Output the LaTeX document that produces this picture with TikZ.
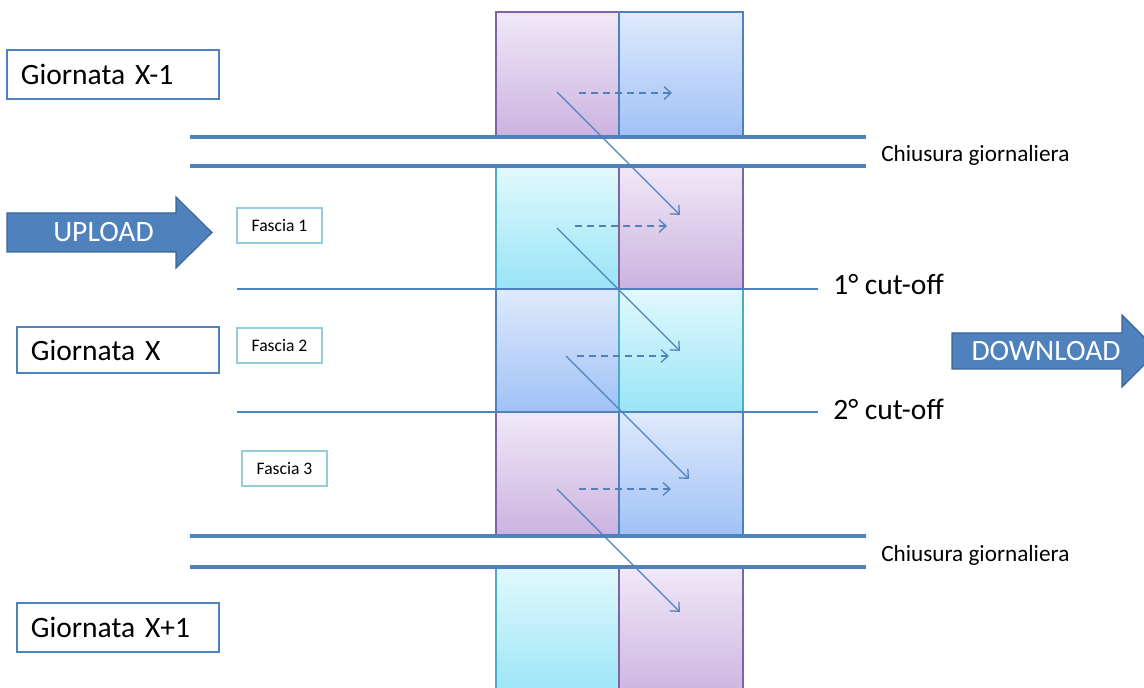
\documentclass[tikz,border=0pt]{standalone}
\usepackage{fontspec}
\setmainfont{Carlito}
\usetikzlibrary{arrows.meta}

\definecolor{linea}{HTML}{4F81BD}
\definecolor{lineascura}{HTML}{3A6596}
\definecolor{violatop}{HTML}{F0E8F7}
\definecolor{violabot}{HTML}{CBB3E0}
\definecolor{violabordo}{HTML}{8064A2}
\definecolor{blutop}{HTML}{DFEAFC}
\definecolor{blubot}{HTML}{A0C1F6}
\definecolor{ciantop}{HTML}{E2F9FD}
\definecolor{cianbot}{HTML}{98E4F6}
\definecolor{cianbordo}{HTML}{4BACC6}
\definecolor{fasciabordo}{HTML}{93CDDD}

\begin{document}
\begin{tikzpicture}[
  x=0.025cm,
  y=-0.025cm,
  cell viola/.style={top color=violatop, bottom color=violabot, draw=violabordo, line width=1pt},
  cell blu/.style={top color=blutop, bottom color=blubot, draw=linea, line width=1pt},
  cell cian/.style={top color=ciantop, bottom color=cianbot, draw=cianbordo, line width=1pt},
  chiusura/.style={draw=linea, line width=2.4pt},
  cutoff/.style={draw=linea, line width=0.9pt},
  flusso/.style={draw=linea, line width=0.9pt, -{Straight Barb[length=5pt,width=9pt]}},
  differito/.style={flusso, dash pattern=on 5pt off 3.5pt},
  giorno/.style={draw=linea, line width=1.6pt, fill=white, inner xsep=0.35cm,
    align=left, font=\fontsize{21}{25}\selectfont},
  fascia/.style={draw=fasciabordo, line width=0.8pt, fill=white, minimum width=2.125cm,
    minimum height=0.875cm, font=\fontsize{12.5}{15}\selectfont},
  nota/.style={anchor=base west, inner sep=0pt},
  freccia/.style={fill=linea, draw=lineascura, line width=0.8pt},
  freccia testo/.style={text=white, inner sep=0pt, font=\fontsize{21}{25}\selectfont},
]
\useasboundingbox (0,0) rectangle (1144,688);

% colonne
\foreach \x/\ya/\yb/\c in {
  496/12/137/viola, 619/12/137/blu,
  496/166/289/cian, 619/166/289/viola,
  496/289/412/blu, 619/289/412/cian,
  496/412/536/viola, 619/412/536/blu,
  496/567/700/cian, 619/567/700/viola}
  \path[cell \c] (\x,\ya) rectangle (\x+124,\yb);

% chiusure giornaliere e cut-off
\foreach \y in {137,166,536,567}
  \draw[chiusura] (190,\y) -- (866,\y);
\foreach \y in {289,412}
  \draw[cutoff] (237,\y) -- (818,\y);

\node[nota, font=\fontsize{16.5}{20}\selectfont] (chiusura1) at (881,162) {Chiusura giornaliera};
\node[nota, font=\fontsize{16.5}{20}\selectfont] (chiusura2) at (881,561) {Chiusura giornaliera};
\node[nota, font=\fontsize{21}{25}\selectfont] (cutoff1) at (833,295) {1° cut-off};
\node[nota, font=\fontsize{21}{25}\selectfont] (cutoff2) at (833,419) {2° cut-off};

% giornate
\node[giorno, text width=4.6cm, minimum height=1.225cm] (giornoprima) at (113,74.5) {Giornata X-1};
\node[giorno, text width=4.35cm, minimum height=1.15cm] (giorno) at (118,350) {Giornata X};
\node[giorno, text width=4.35cm, minimum height=1.225cm] (giornodopo) at (118,627.5) {Giornata X+1};

% fasce
\node[fascia] (fascia1) at (279.5,225.5) {Fascia 1};
\node[fascia] (fascia2) at (279.5,345.5) {Fascia 2};
\node[fascia] (fascia3) at (284.5,468.5) {Fascia 3};

% upload / download
\draw[freccia] (7,213) -- (176,213) -- (176,197) -- (212,232.5) -- (176,268)
  -- (176,252) -- (7,252) -- cycle;
\node[freccia testo] (upload) at (103.5,232.5) {UPLOAD};
\draw[freccia] (952,333) -- (1122,333) -- (1122,315) -- (1158,351) -- (1122,387)
  -- (1122,369) -- (952,369) -- cycle;
\node[freccia testo] (download) at (1046,351) {DOWNLOAD};

% flussi
\foreach \i/\x/\y in {1/557/92, 2/557/228, 3/566/356, 4/557/489} {
  \coordinate (da\i) at (\x,\y);
  \coordinate (a\i) at (\x+123,\y+123);
  \draw[flusso] (da\i) -- (a\i);
}
\foreach \i/\xa/\xb/\y in {1/579/672/93, 2/575/667/226, 3/577/669/356, 4/579/671/489} {
  \coordinate (dd\i) at (\xa,\y);
  \coordinate (ad\i) at (\xb,\y);
  \draw[differito] (dd\i) -- (ad\i);
}
\end{tikzpicture}
\end{document}
